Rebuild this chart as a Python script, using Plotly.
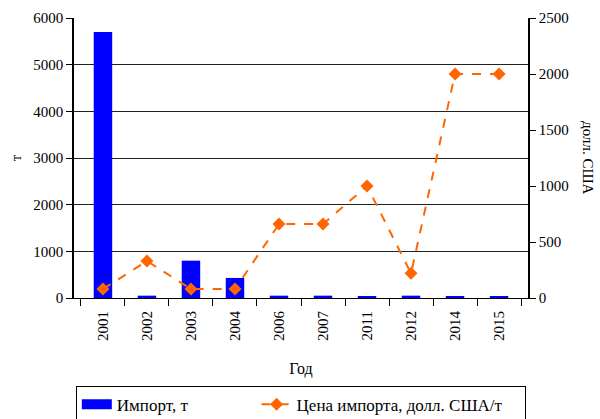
import plotly.graph_objects as go

years = ["2001", "2002", "2003", "2004", "2006", "2007", "2011", "2012", "2014", "2015"]
import_t = [5700, 50, 800, 430, 50, 50, 30, 50, 30, 30]
price_usd = [80, 330, 80, 80, 660, 660, 1000, 220, 2000, 2000]

FONT = "Liberation Serif, Times New Roman, serif"
NB = "\u00a0"

fig = go.Figure()
fig.add_trace(go.Bar(
    x=years, y=import_t, name="Импорт, т",
    marker=dict(color="#0000FF", line=dict(width=0)),
    width=0.42, yaxis="y", showlegend=False,
))
# legend-only entry to mimic the wide blue rectangle swatch
fig.add_trace(go.Scatter(
    x=[None], y=[None], name="Импорт, т" + NB * 15, mode="lines",
    line=dict(color="#0000FF", width=12), showlegend=True,
))
fig.add_trace(go.Scatter(
    x=years, y=price_usd, name="Цена импорта, долл. США/т" + NB * 4,
    mode="lines+markers",
    line=dict(color="#FF6600", width=2, dash="dash"),
    marker=dict(symbol="diamond", size=10, color="#FF6600"),
    yaxis="y2",
))

fig.update_layout(
    width=600, height=419,
    margin=dict(l=74, r=72, t=18, b=121, autoexpand=False),
    paper_bgcolor="white", plot_bgcolor="white",
    font=dict(family=FONT, size=15, color="black"),
    showlegend=True,
    legend=dict(
        orientation="h", x=0.004, y=-0.313, xanchor="left", yanchor="top",
        bordercolor="black", borderwidth=1, font=dict(size=17, family=FONT),
        traceorder="normal",
    ),
    xaxis=dict(
        type="category", tickangle=-90, showgrid=False, automargin=False,
        showline=True, linecolor="black", linewidth=1,
        ticks="outside", tickson="boundaries", ticklen=7, tickcolor="black",
        ticklabelstandoff=6,
        title=dict(text="Год", font=dict(size=16, family=FONT), standoff=22),
        tickfont=dict(size=15, family=FONT),
    ),
    yaxis=dict(
        range=[0, 6000], dtick=1000, showgrid=True, gridcolor="#222222", gridwidth=1,
        showline=True, linecolor="black", linewidth=1.5, automargin=False,
        ticks="outside", ticklen=6, tickcolor="black",
        title=dict(text="т", font=dict(size=15, family=FONT), standoff=8),
        tickfont=dict(size=15, family=FONT), zeroline=False,
    ),
    yaxis2=dict(
        range=[0, 2500], dtick=500, overlaying="y", side="right",
        showgrid=False, showline=True, linecolor="black", linewidth=1.5,
        ticks="outside", ticklen=6, tickcolor="black", automargin=False,
        tickfont=dict(size=15, family=FONT), zeroline=False,
    ),
    annotations=[dict(
        text="долл. США", textangle=90, x=1.132, y=0.5, xref="paper", yref="paper",
        xanchor="center", yanchor="middle", showarrow=False,
        font=dict(size=15, family=FONT),
    )],
)

fig.write_html("out.html", config={"displayModeBar": False},
               post_script="document.body.style.margin='0';")
